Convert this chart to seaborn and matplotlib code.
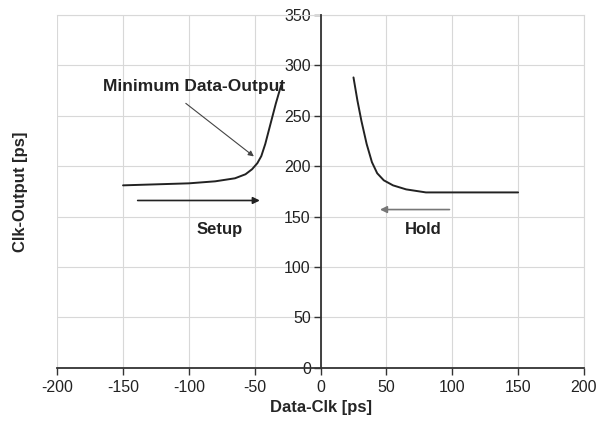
import matplotlib
matplotlib.use("Agg")
import matplotlib.pyplot as plt
import seaborn as sns
import pandas as pd

# setup side (data before clock)
setup_x = [-150, -125, -100, -80, -65, -57, -52, -48, -45, -42, -38, -34, -30]
setup_y = [181, 182, 183, 185, 188, 192, 197, 203, 210, 222, 242, 262, 280]
# hold side (data after clock)
hold_x = [25, 28, 31, 35, 39, 43, 48, 55, 65, 80, 100, 125, 150]
hold_y = [288, 265, 245, 222, 204, 193, 186, 181, 177, 174, 174, 174, 174]

x_ticks = [-200, -150, -100, -50, 0, 50, 100, 150, 200]
y_ticks = [0, 50, 100, 150, 200, 250, 300, 350]

df = pd.concat([
    pd.DataFrame({"x": setup_x, "y": setup_y, "side": "Setup"}),
    pd.DataFrame({"x": hold_x, "y": hold_y, "side": "Hold"}),
])

sns.set_style("whitegrid")
plt.rcParams["font.family"] = ["Liberation Sans", "DejaVu Sans"]
plt.rcParams["axes.unicode_minus"] = False

fig = plt.figure(figsize=(6.02, 4.38), dpi=100)
ax = fig.add_axes([0.095, 0.160, 0.875, 0.806])

sns.lineplot(data=df, x="x", y="y", units="side", estimator=None, sort=False,
             color="#222222", linewidth=1.4, ax=ax)

ax.set_xlim(-200, 200)
ax.set_ylim(0, 350)
ax.set_xticks(x_ticks)
ax.set_yticks(y_ticks)
ax.grid(True, color="#d8d8d8", linewidth=0.8)
ax.set_axisbelow(True)

ax.spines["left"].set_position(("data", 0))
for s in ["left", "bottom"]:
    ax.spines[s].set_color("#333333")
    ax.spines[s].set_linewidth(1.3)
    ax.spines[s].set_zorder(3)
for s in ["top", "right"]:
    ax.spines[s].set_color("#d8d8d8")
    ax.spines[s].set_linewidth(0.8)

ax.tick_params(axis="both", which="both", direction="out", length=5, width=1,
               color="#333333", labelsize=11.5, labelcolor="#222222", pad=2,
               bottom=True, left=True)
ax.tick_params(axis="x", pad=4)

ax.set_xlabel("Data-Clk [ps]", fontsize=12, fontweight="bold", labelpad=3)
ax.set_ylabel("Clk-Output [ps]", fontsize=12, fontweight="bold")
ax.yaxis.set_label_coords(-0.055, 0.5, transform=ax.transAxes)

# annotations
ax.annotate("", xy=(-44, 166), xytext=(-141, 166),
            arrowprops=dict(arrowstyle="-|>", color="#222222", lw=1.2,
                            mutation_scale=10))
ax.annotate("", xy=(43, 157), xytext=(100, 157),
            arrowprops=dict(arrowstyle="-|>", color="#777777", lw=1.2,
                            mutation_scale=10))
ax.text(-77, 137, "Setup", ha="center", va="center", fontsize=12,
        fontweight="bold", color="#222222")
ax.text(78, 137, "Hold", ha="center", va="center", fontsize=12,
        fontweight="bold", color="#222222")
ax.annotate("", xy=(-49, 208), xytext=(-104, 264),
            arrowprops=dict(arrowstyle="-|>", color="#444444", lw=0.8,
                            mutation_scale=8))
ax.text(-96, 279, "Minimum Data-Output", ha="center", va="center",
        fontsize=12.5, fontweight="bold", color="#222222")

fig.savefig("out.png", dpi=100)
